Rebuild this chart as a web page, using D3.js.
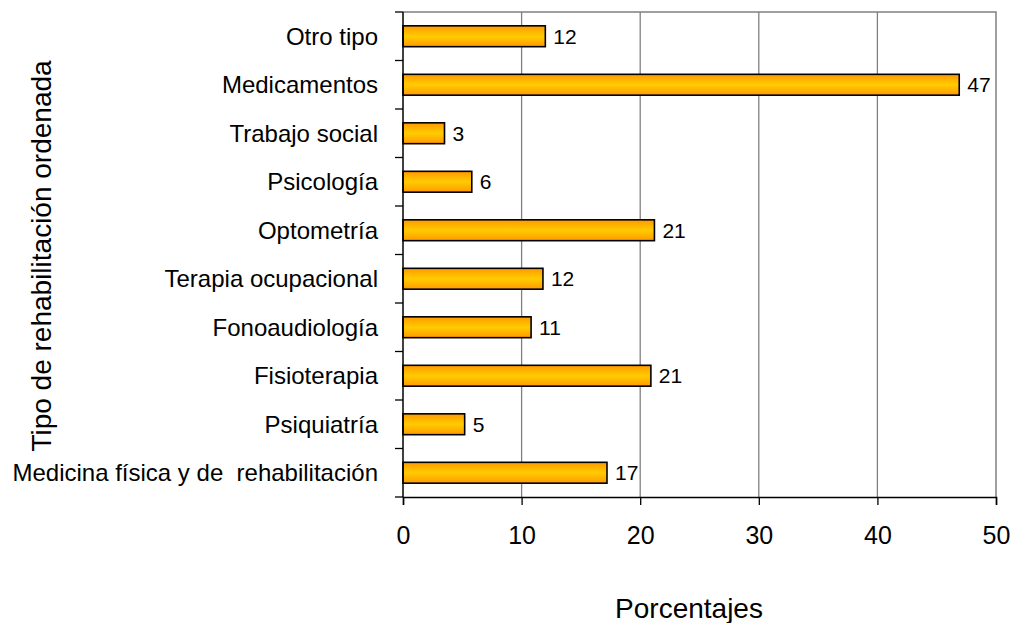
<!DOCTYPE html>
<html><head><meta charset="utf-8">
<script src="https://cdn.jsdelivr.net/npm/d3@7"></script>
<style>body{margin:0;background:#fff;} text{font-family:"Liberation Sans",Arial,sans-serif;}</style>
</head><body>
<svg id="c" width="1013" height="623"></svg>
<script>
const categories = ["Otro tipo","Medicamentos","Trabajo social","Psicología","Optometría","Terapia ocupacional","Fonoaudiología","Fisioterapia","Psiquiatría","Medicina física y de  rehabilitación"];
const values = [12, 46.9, 3.5, 5.8, 21.2, 11.8, 10.8, 20.9, 5.2, 17.2];
const labels = ["12","47","3","6","21","12","11","21","5","17"];
const xTicks = [0,10,20,30,40,50];

const svg = d3.select("#c");
const L = 403, R = 996, T = 12, B = 497;
const x = d3.scaleLinear().domain([0,50]).range([L,R]);
const y = d3.scaleBand().domain(categories).range([T,B]).paddingInner(0.57).paddingOuter(0.285);
const yb = d3.scaleBand().domain(categories).range([T,B]);

const defs = svg.append("defs");
const g = defs.append("linearGradient").attr("id","gr").attr("x1",0).attr("x2",0).attr("y1",0).attr("y2",1);
g.append("stop").attr("offset","0%").attr("stop-color","#ff9900");
g.append("stop").attr("offset","50%").attr("stop-color","#ffcc00");
g.append("stop").attr("offset","100%").attr("stop-color","#ff9900");

// grid
svg.append("g").selectAll("line").data(xTicks.slice(1,5)).join("line")
  .attr("x1",d=>x(d)).attr("x2",d=>x(d)).attr("y1",T).attr("y2",B)
  .attr("stroke","#808080").attr("stroke-width",1.3);
// border top/right
svg.append("path").attr("d",`M${L},${T}H${R}V${B}`).attr("fill","none").attr("stroke","#808080").attr("stroke-width",1.5);

// bars
svg.append("g").selectAll("rect").data(categories).join("rect")
  .attr("x",x(0)).attr("y",d=>y(d)).attr("height",y.bandwidth())
  .attr("width",(d,i)=>x(values[i])-x(0))
  .attr("fill","url(#gr)").attr("stroke","#000").attr("stroke-width",1.6);

// value labels
svg.append("g").selectAll("text").data(categories).join("text")
  .attr("x",(d,i)=>x(values[i])+8).attr("y",d=>y(d)+y.bandwidth()/2)
  .attr("dy","0.36em").attr("font-size",21).attr("fill","#000")
  .text((d,i)=>labels[i]);

// axes
const xa = d3.axisBottom(x).tickValues(xTicks).tickSize(8).tickPadding(21).tickFormat(d3.format("d"));
const gx = svg.append("g").attr("transform",`translate(0,${B})`).call(xa);
gx.select(".domain").attr("stroke","#000").attr("stroke-width",1.5);
gx.selectAll(".tick line").attr("stroke","#000").attr("stroke-width",1.3);
gx.selectAll(".tick text").attr("font-size",25).attr("fill","#000").attr("font-family","Liberation Sans, Arial, sans-serif");

// left axis line and boundary ticks
svg.append("line").attr("x1",L).attr("x2",L).attr("y1",T).attr("y2",B).attr("stroke","#000").attr("stroke-width",1.5);
const bounds = categories.map(c=>yb(c)).concat([B]);
svg.append("g").selectAll("line").data(bounds).join("line")
  .attr("x1",L-8).attr("x2",L).attr("y1",d=>d).attr("y2",d=>d).attr("stroke","#000").attr("stroke-width",1.3);

// category labels
svg.append("g").selectAll("text").data(categories).join("text")
  .attr("x",378).attr("y",d=>yb(d)+yb.bandwidth()/2).attr("dy","0.36em")
  .attr("text-anchor","end").attr("font-size",24).attr("fill","#000")
  .style("white-space","pre").attr("xml:space","preserve")
  .text(d=>d);

// titles
svg.append("text").attr("transform","translate(51,256) rotate(-90)").attr("text-anchor","middle")
  .attr("font-size",28).attr("fill","#000").text("Tipo de rehabilitación ordenada");
svg.append("text").attr("x",689).attr("y",618).attr("text-anchor","middle")
  .attr("font-size",28).attr("fill","#000").text("Porcentajes");
</script>
</body></html>
